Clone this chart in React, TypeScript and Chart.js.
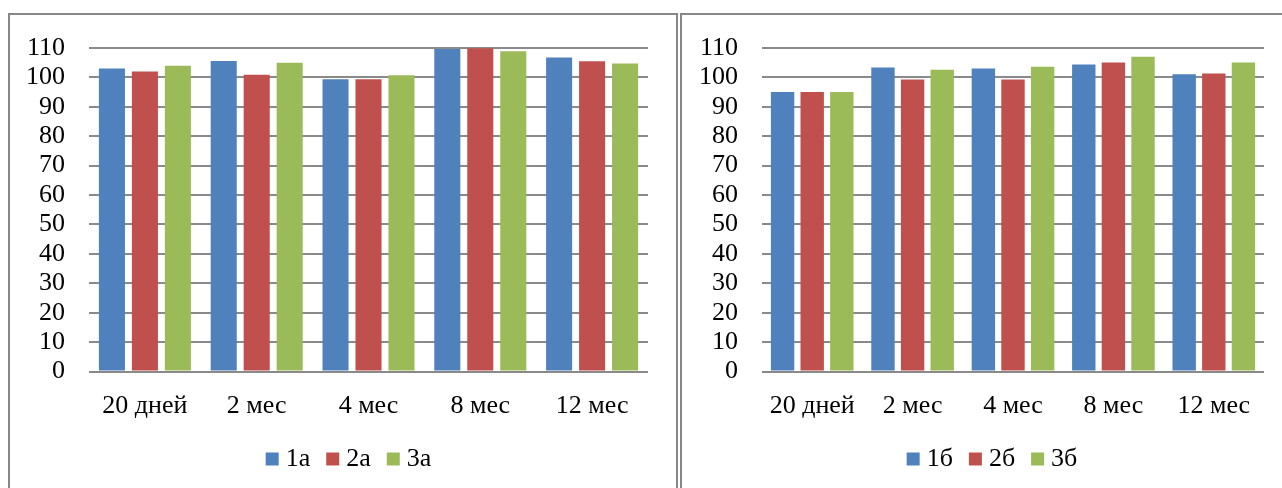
import React, { useEffect, useRef } from 'react';
import { Chart, registerables } from 'chart.js';

Chart.register(...registerables);

const categories = ['20 дней', '2 мес', '4 мес', '8 мес', '12 мес'];
const yTicks = [0, 10, 20, 30, 40, 50, 60, 70, 80, 90, 100, 110];

const namesA = ['1а', '2а', '3а'];
const seriesA1 = [103.0, 105.6, 99.4, 109.7, 106.8];
const seriesA2 = [102.0, 100.9, 99.4, 109.9, 105.5];
const seriesA3 = [104.0, 105.0, 100.7, 108.9, 104.7];

const namesB = ['1б', '2б', '3б'];
const seriesB1 = [95.0, 103.4, 103.0, 104.4, 101.1];
const seriesB2 = [95.0, 99.3, 99.3, 105.1, 101.3];
const seriesB3 = [95.0, 102.6, 103.6, 107.0, 105.1];

const colors = ['#4F81BD', '#C0504D', '#9BBB59'];
const FONT = '"Liberation Serif", "Times New Roman", serif';

type Geo = { yWidth: number; rightGap: number; padRight: number };

function buildConfig(names: string[], series: number[][], g: Geo): any {
  return {
    type: 'bar',
    data: {
      labels: categories,
      datasets: series.map((s, i) => ({
        label: names[i],
        data: s,
        backgroundColor: colors[i],
        borderWidth: 0,
        categoryPercentage: 0.885,
        barPercentage: 0.79,
        yAxisID: 'y',
      })),
    },
    options: {
      animation: false,
      responsive: true,
      maintainAspectRatio: false,
      layout: { padding: { left: 0, right: g.padRight, top: 33, bottom: 6 } },
      plugins: {
        tooltip: { enabled: false },
        legend: {
          position: 'bottom',
          align: 'center',
          labels: {
            color: '#000',
            font: { family: FONT, size: 26 },
            usePointStyle: true,
            pointStyle: 'rect',
            boxWidth: 1,
            boxHeight: 13,
            padding: 22,
          },
        },
      },
      scales: {
        x: {
          grid: { display: false, drawTicks: true, tickLength: 19, tickColor: 'rgba(0,0,0,0)' },
          border: { display: false },
          ticks: { color: '#000', font: { family: FONT, size: 26 }, padding: 0, maxRotation: 0 },
          afterFit: (scale: any) => { scale.height = 52.5; },
        },
        y: {
          position: 'left',
          min: 0,
          max: 110,
          afterBuildTicks: (scale: any) => { scale.ticks = yTicks.map((v) => ({ value: v })); },
          grid: { color: '#8a8a8a', lineWidth: 2, drawTicks: true, tickLength: 24, tickColor: 'rgba(0,0,0,0)' },
          border: { display: false },
          ticks: { color: '#000', font: { family: FONT, size: 26 }, padding: 0, autoSkip: false },
          afterFit: (scale: any) => { scale.width = g.yWidth; },
        },
        gap: {
          axis: 'y',
          type: 'linear',
          position: 'right',
          display: true,
          grid: { display: false, drawTicks: false },
          border: { display: false },
          ticks: { display: false },
          afterFit: (scale: any) => { scale.width = g.rightGap; },
        },
      },
    },
  };
}

function Panel(props: { left: number; width: number; canvasWidth: number; names: string[]; series: number[][]; geo: Geo }) {
  const ref = useRef<HTMLCanvasElement>(null);
  useEffect(() => {
    const chart = new Chart(ref.current as HTMLCanvasElement, buildConfig(props.names, props.series, props.geo));
    return () => chart.destroy();
  }, []);
  return (
    <div
      style={{
        position: 'absolute',
        left: props.left,
        top: 13,
        width: props.width,
        height: 480,
        border: '2px solid #878787',
        borderBottom: 'none',
        boxSizing: 'content-box',
      }}
    >
      <div style={{ position: 'relative', width: props.canvasWidth, height: 473 }}>
        <canvas ref={ref} />
      </div>
    </div>
  );
}

export default function App() {
  return (
    <div
      style={{
        position: 'fixed',
        left: 0,
        top: 0,
        width: 1282,
        height: 488,
        overflow: 'hidden',
        background: '#fff',
      }}
    >
      <Panel
        left={8}
        width={666}
        canvasWidth={690}
        names={namesA}
        series={[seriesA1, seriesA2, seriesA3]}
        geo={{ yWidth: 79, rightGap: 45, padRight: 7 }}
      />
      <Panel
        left={680}
        width={608}
        canvasWidth={640}
        names={namesB}
        series={[seriesB1, seriesB2, seriesB3]}
        geo={{ yWidth: 80, rightGap: 44, padRight: 14 }}
      />
    </div>
  );
}
